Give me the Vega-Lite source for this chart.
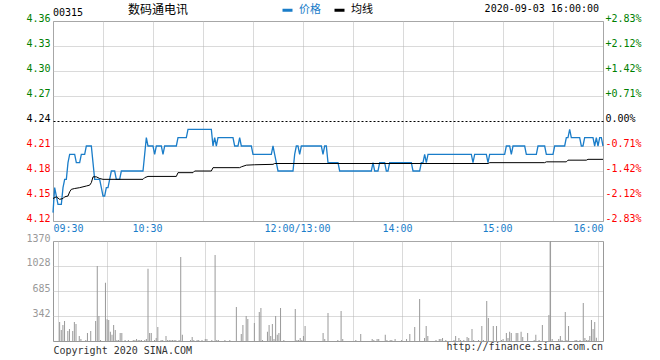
{
  "$schema": "https://vega.github.io/schema/vega-lite/v6.json",
  "background": "#ffffff",
  "padding": {"left": 25, "top": 3, "right": 5, "bottom": 3},
  "title": {"text": "00315", "anchor": "start", "frame": "group", "font": "DejaVu Sans Mono", "fontSize": 10, "fontWeight": "normal", "color": "#000000", "offset": 0, "dy": 15},
  "spacing": 20,
  "bounds": "flush",
  "config": {"view": {"stroke": "#999999", "strokeWidth": 1}},
  "datasets": {
    "price": [{"i":0,"p":4.13},{"i":1,"p":4.16},{"i":2,"p":4.15},{"i":3,"p":4.14},{"i":5,"p":4.14},{"i":6,"p":4.16},{"i":7,"p":4.17},{"i":8,"p":4.17},{"i":9,"p":4.19},{"i":10,"p":4.2},{"i":13,"p":4.2},{"i":14,"p":4.19},{"i":16,"p":4.19},{"i":17,"p":4.2},{"i":19,"p":4.2},{"i":20,"p":4.21},{"i":23,"p":4.21},{"i":24,"p":4.19},{"i":25,"p":4.17},{"i":28,"p":4.17},{"i":29,"p":4.16},{"i":30,"p":4.15},{"i":31,"p":4.15},{"i":32,"p":4.16},{"i":33,"p":4.16},{"i":34,"p":4.17},{"i":35,"p":4.18},{"i":37,"p":4.18},{"i":38,"p":4.17},{"i":40,"p":4.17},{"i":41,"p":4.18},{"i":54,"p":4.18},{"i":55,"p":4.2},{"i":56,"p":4.22},{"i":57,"p":4.21},{"i":60,"p":4.21},{"i":61,"p":4.2},{"i":62,"p":4.21},{"i":65,"p":4.21},{"i":66,"p":4.2},{"i":67,"p":4.21},{"i":74,"p":4.21},{"i":75,"p":4.22},{"i":80,"p":4.22},{"i":81,"p":4.23},{"i":95,"p":4.23},{"i":96,"p":4.21},{"i":97,"p":4.22},{"i":98,"p":4.21},{"i":99,"p":4.22},{"i":108,"p":4.22},{"i":109,"p":4.21},{"i":111,"p":4.21},{"i":112,"p":4.22},{"i":113,"p":4.21},{"i":119,"p":4.21},{"i":120,"p":4.2},{"i":131,"p":4.2},{"i":132,"p":4.21},{"i":133,"p":4.2},{"i":134,"p":4.19},{"i":135,"p":4.18},{"i":144,"p":4.18},{"i":145,"p":4.2},{"i":146,"p":4.21},{"i":147,"p":4.21},{"i":148,"p":4.2},{"i":149,"p":4.21},{"i":161,"p":4.21},{"i":162,"p":4.2},{"i":163,"p":4.21},{"i":164,"p":4.21},{"i":165,"p":4.19},{"i":171,"p":4.19},{"i":172,"p":4.18},{"i":191,"p":4.18},{"i":192,"p":4.19},{"i":193,"p":4.18},{"i":195,"p":4.18},{"i":196,"p":4.19},{"i":199,"p":4.19},{"i":200,"p":4.18},{"i":201,"p":4.18},{"i":202,"p":4.19},{"i":215,"p":4.19},{"i":216,"p":4.18},{"i":220,"p":4.18},{"i":221,"p":4.19},{"i":222,"p":4.19},{"i":223,"p":4.2},{"i":224,"p":4.19},{"i":225,"p":4.2},{"i":251,"p":4.2},{"i":252,"p":4.19},{"i":253,"p":4.2},{"i":260,"p":4.2},{"i":261,"p":4.19},{"i":262,"p":4.2},{"i":271,"p":4.2},{"i":272,"p":4.21},{"i":274,"p":4.21},{"i":275,"p":4.2},{"i":276,"p":4.21},{"i":283,"p":4.21},{"i":284,"p":4.2},{"i":290,"p":4.2},{"i":291,"p":4.21},{"i":295,"p":4.21},{"i":296,"p":4.2},{"i":300,"p":4.2},{"i":301,"p":4.21},{"i":307,"p":4.21},{"i":308,"p":4.22},{"i":309,"p":4.22},{"i":310,"p":4.23},{"i":311,"p":4.22},{"i":316,"p":4.22},{"i":317,"p":4.21},{"i":318,"p":4.21},{"i":319,"p":4.22},{"i":324,"p":4.22},{"i":325,"p":4.21},{"i":326,"p":4.22},{"i":327,"p":4.21},{"i":328,"p":4.22},{"i":329,"p":4.22},{"i":330,"p":4.21}],
    "avg": [{"i":0,"a":4.147},{"i":2,"a":4.149},{"i":4,"a":4.146},{"i":6,"a":4.147},{"i":7,"a":4.149},{"i":9,"a":4.15},{"i":10,"a":4.155},{"i":11,"a":4.158},{"i":13,"a":4.159},{"i":16,"a":4.16},{"i":20,"a":4.162},{"i":22,"a":4.163},{"i":23,"a":4.166},{"i":24,"a":4.173},{"i":26,"a":4.173},{"i":28,"a":4.171},{"i":30,"a":4.17},{"i":54,"a":4.17},{"i":55,"a":4.172},{"i":57,"a":4.1735},{"i":74,"a":4.1735},{"i":75,"a":4.178},{"i":84,"a":4.178},{"i":85,"a":4.18},{"i":95,"a":4.18},{"i":96,"a":4.184},{"i":112,"a":4.184},{"i":113,"a":4.185},{"i":116,"a":4.187},{"i":121,"a":4.1875},{"i":132,"a":4.188},{"i":133,"a":4.189},{"i":261,"a":4.189},{"i":262,"a":4.19},{"i":295,"a":4.19},{"i":296,"a":4.191},{"i":308,"a":4.191},{"i":309,"a":4.193},{"i":320,"a":4.193},{"i":321,"a":4.194},{"i":330,"a":4.194}],
    "vol": [{"i":1,"v":260},{"i":2,"v":151},{"i":3,"v":219},{"i":4,"v":274},{"i":6,"v":137},{"i":7,"v":164},{"i":9,"v":137},{"i":10,"v":260},{"i":11,"v":233},{"i":13,"v":68},{"i":14,"v":27},{"i":17,"v":14},{"i":18,"v":110},{"i":20,"v":137},{"i":23,"v":274},{"i":24,"v":1027},{"i":25,"v":342},{"i":26,"v":14},{"i":29,"v":799},{"i":30,"v":297},{"i":31,"v":288},{"i":32,"v":128},{"i":33,"v":87},{"i":34,"v":219},{"i":35,"v":151},{"i":36,"v":14},{"i":37,"v":14},{"i":38,"v":110},{"i":39,"v":110},{"i":41,"v":14},{"i":43,"v":14},{"i":46,"v":14},{"i":47,"v":14},{"i":48,"v":27},{"i":49,"v":14},{"i":50,"v":14},{"i":51,"v":14},{"i":53,"v":14},{"i":54,"v":27},{"i":55,"v":991},{"i":56,"v":110},{"i":57,"v":110},{"i":59,"v":14},{"i":60,"v":41},{"i":61,"v":192},{"i":63,"v":14},{"i":64,"v":14},{"i":66,"v":68},{"i":67,"v":14},{"i":68,"v":14},{"i":69,"v":14},{"i":70,"v":14},{"i":71,"v":14},{"i":72,"v":14},{"i":74,"v":14},{"i":75,"v":1151},{"i":76,"v":87},{"i":81,"v":14},{"i":82,"v":55},{"i":83,"v":14},{"i":85,"v":14},{"i":86,"v":14},{"i":88,"v":14},{"i":90,"v":27},{"i":91,"v":27},{"i":94,"v":14},{"i":96,"v":1178},{"i":97,"v":14},{"i":98,"v":14},{"i":102,"v":14},{"i":105,"v":14},{"i":109,"v":466},{"i":112,"v":96},{"i":113,"v":219},{"i":115,"v":342},{"i":116,"v":301},{"i":120,"v":247},{"i":123,"v":397},{"i":124,"v":452},{"i":125,"v":14},{"i":128,"v":128},{"i":129,"v":219},{"i":130,"v":68},{"i":131,"v":233},{"i":132,"v":27},{"i":133,"v":342},{"i":134,"v":87},{"i":135,"v":110},{"i":136,"v":452},{"i":138,"v":14},{"i":145,"v":438},{"i":146,"v":14},{"i":147,"v":14},{"i":148,"v":41},{"i":149,"v":14},{"i":150,"v":68},{"i":151,"v":205},{"i":162,"v":110},{"i":163,"v":27},{"i":165,"v":384},{"i":171,"v":14},{"i":173,"v":411},{"i":174,"v":27},{"i":182,"v":14},{"i":185,"v":96},{"i":192,"v":27},{"i":193,"v":14},{"i":195,"v":27},{"i":196,"v":27},{"i":200,"v":87},{"i":201,"v":14},{"i":203,"v":14},{"i":204,"v":14},{"i":206,"v":27},{"i":210,"v":14},{"i":213,"v":27},{"i":215,"v":96},{"i":218,"v":192},{"i":221,"v":575},{"i":224,"v":41},{"i":225,"v":205},{"i":226,"v":68},{"i":231,"v":14},{"i":233,"v":27},{"i":234,"v":27},{"i":235,"v":41},{"i":237,"v":14},{"i":242,"v":14},{"i":243,"v":68},{"i":245,"v":41},{"i":246,"v":14},{"i":248,"v":14},{"i":250,"v":55},{"i":251,"v":41},{"i":253,"v":164},{"i":254,"v":14},{"i":257,"v":14},{"i":259,"v":205},{"i":260,"v":14},{"i":262,"v":548},{"i":263,"v":315},{"i":266,"v":205},{"i":268,"v":205},{"i":271,"v":14},{"i":272,"v":27},{"i":274,"v":110},{"i":275,"v":41},{"i":276,"v":128},{"i":277,"v":110},{"i":280,"v":110},{"i":281,"v":110},{"i":283,"v":128},{"i":284,"v":55},{"i":287,"v":110},{"i":291,"v":14},{"i":292,"v":87},{"i":294,"v":14},{"i":296,"v":219},{"i":300,"v":356},{"i":301,"v":1370},{"i":302,"v":27},{"i":306,"v":27},{"i":307,"v":68},{"i":308,"v":14},{"i":310,"v":397},{"i":311,"v":14},{"i":312,"v":205},{"i":316,"v":14},{"i":317,"v":14},{"i":319,"v":14},{"i":321,"v":521},{"i":322,"v":41},{"i":323,"v":14},{"i":324,"v":14},{"i":325,"v":68},{"i":326,"v":288},{"i":327,"v":165},{"i":328,"v":260},{"i":329,"v":45}]
  },
  "vconcat": [
    {
      "width": 550,
      "height": 200,
      "title": {"text": "2020-09-03 16:00:00", "anchor": "end", "frame": "group", "font": "DejaVu Sans Mono", "fontSize": 10, "fontWeight": "normal", "color": "#000000", "offset": -0.5, "dx": -4},
      "layer": [
        {
          "data": {"name": "price"},
          "mark": {"type": "line", "strokeWidth": 1.3},
          "encoding": {
            "x": {"field": "i", "type": "quantitative", "scale": {"domain": [0, 330], "nice": false, "zero": false},
              "axis": {"values": [0,30,60,90,120,150,180,210,240,270,300,330], "title": null, "ticks": false, "domain": false,
                "labelExpr": "datum.value==0?'09:30':datum.value==60?'10:30':datum.value==150?'12:00/13:00':datum.value==210?'14:00':datum.value==270?'15:00':datum.value==330?'16:00':''",
                "labelFont": "DejaVu Sans Mono", "labelFontSize": 10, "labelColor": "#1a7dc9", "labelPadding": 2, "labelOverlap": false,
                "labelAlign": {"expr": "datum.value==0?'left':datum.value==330?'right':'center'"},
                "labelOffset": {"condition": {"test": "datum.value==0 || datum.value==330", "value": 0}, "value": -6},
                "grid": true, "gridColor": "#b4b4b4", "gridDash": [1, 1], "gridWidth": 1}},
            "y": {"field": "p", "type": "quantitative", "scale": {"domain": [4.12, 4.36], "nice": false, "zero": false},
              "axis": {"orient": "left", "values": [4.12,4.15,4.18,4.21,4.24,4.27,4.3,4.33,4.36], "format": ".2f", "title": null, "ticks": false, "domain": false,
                "labelFont": "DejaVu Sans Mono", "labelFontSize": 10, "labelPadding": 3, "labelOffset": -3,
                "labelColor": {"expr": "datum.value > 4.245 ? '#008000' : datum.value < 4.235 ? '#ff0000' : '#000000'"},
                "grid": true, "gridWidth": 1,
                "gridColor": {"expr": "abs(datum.value - 4.24) < 0.001 ? '#000000' : '#b4b4b4'"},
                "gridDash": {"expr": "abs(datum.value - 4.24) < 0.001 ? [2, 2] : [1, 1]"}}},
            "color": {"datum": "价格", "type": "nominal",
              "scale": {"domain": ["价格", "均线"], "range": ["#1a7dc9", "#000000"]},
              "legend": {"orient": "none", "legendX": 75, "legendY": -17.5, "direction": "horizontal",
                "title": "数码通电讯", "titleOrient": "left", "titleFont": "Noto Sans CJK SC", "titleFontSize": 12, "titleFontWeight": "normal", "titleColor": "#000000", "titlePadding": 92,
                "labelFont": "Noto Sans CJK SC", "labelFontSize": 11, "labelColor": {"expr": "datum.label == '价格' ? '#1a7dc9' : '#000000'"},
                "symbolType": "stroke", "symbolStrokeWidth": 3, "symbolSize": 100, "labelOffset": 5, "columnPadding": 7}}
          }
        },
        {
          "data": {"name": "avg"},
          "mark": {"type": "line", "strokeWidth": 1},
          "encoding": {
            "x": {"field": "i", "type": "quantitative"},
            "y": {"field": "a", "type": "quantitative", "scale": {"domain": [4.12, 4.36], "nice": false, "zero": false},
              "axis": {"orient": "right", "values": [4.12,4.15,4.18,4.21,4.24,4.27,4.3,4.33,4.36], "title": null, "ticks": false, "domain": false, "grid": false,
                "labelExpr": "(datum.value > 4.245 ? '+' : datum.value < 4.235 ? '-' : '') + format(abs(datum.value - 4.24) / 4.24 * 100, '.2f') + '%'",
                "labelFont": "DejaVu Sans Mono", "labelFontSize": 10, "labelPadding": 2, "labelOffset": -3,
                "labelColor": {"expr": "datum.value > 4.245 ? '#008000' : datum.value < 4.235 ? '#ff0000' : '#000000'"}}},
            "color": {"datum": "均线", "type": "nominal"}
          }
        }
      ],
      "resolve": {"scale": {"y": "independent"}}
    },
    {
      "width": 550,
      "height": 100,
      "data": {"name": "vol"},
      "title": {"text": "http://finance.sina.com.cn", "orient": "bottom", "anchor": "end", "frame": "group", "font": "DejaVu Sans Mono", "fontSize": 10, "fontWeight": "normal", "color": "#333333", "offset": 0, "dy": -13},
      "mark": {"type": "bar", "width": 1, "color": "#999999"},
      "encoding": {
        "x": {"field": "i", "type": "quantitative", "scale": {"domain": [0, 330], "nice": false, "zero": false},
          "axis": {"values": [0,30,60,90,120,150,180,210,240,270,300,330], "labels": false, "ticks": false, "domain": false,
            "grid": true, "gridColor": "#b4b4b4", "gridDash": [1, 1], "gridWidth": 1,
            "title": "Copyright 2020 SINA.COM", "titleAnchor": "start", "titleAlign": "left", "titleFont": "DejaVu Sans Mono", "titleFontSize": 10, "titleFontWeight": "normal", "titleColor": "#333333", "titlePadding": 4}},
        "y": {"field": "v", "type": "quantitative", "scale": {"domain": [0, 1370], "nice": false, "zero": true},
          "axis": {"values": [342, 685, 1028, 1370], "format": "d", "title": null, "ticks": false, "domain": false,
            "labelFont": "DejaVu Sans Mono", "labelFontSize": 10, "labelPadding": 3, "labelOffset": -3, "labelColor": "#999999",
            "grid": true, "gridColor": "#b4b4b4", "gridDash": [1, 1], "gridWidth": 1}}
      }
    }
  ]
}
